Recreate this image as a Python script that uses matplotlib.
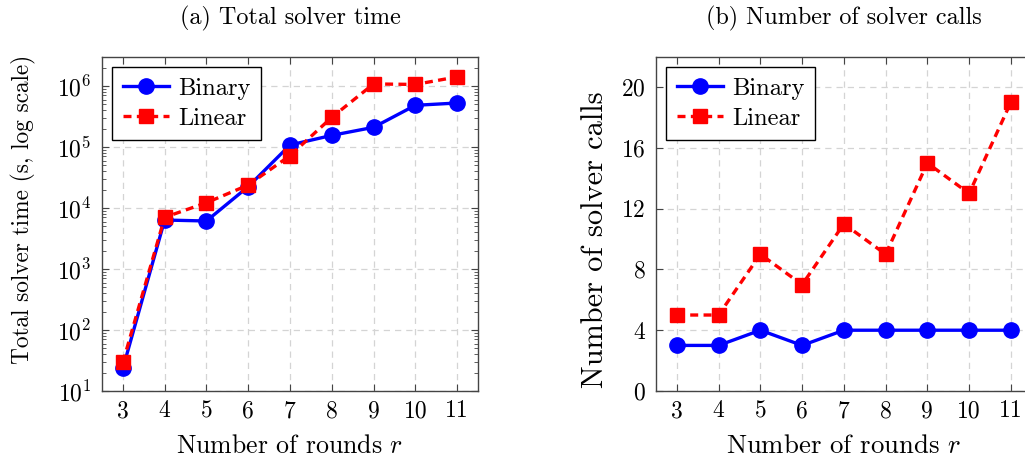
import matplotlib
matplotlib.use("Agg")
import matplotlib.pyplot as plt
from matplotlib.ticker import LogLocator, FixedLocator, NullFormatter

plt.rcParams['font.family'] = ['cmr10', 'DejaVu Serif']
plt.rcParams['mathtext.fontset'] = 'cm'
plt.rcParams['axes.formatter.use_mathtext'] = True
plt.rcParams['axes.unicode_minus'] = False

rounds = [3, 4, 5, 6, 7, 8, 9, 10, 11]
time_binary = [23.5, 6350, 6120, 22400, 107800, 155000, 210000, 482000, 526000]
time_linear = [29.5, 7030, 12200, 23800, 72100, 306000, 1080000, 1060000, 1410000]
calls_binary = [3, 3, 4, 3, 4, 4, 4, 4, 4]
calls_linear = [5, 5, 9, 7, 11, 9, 15, 13, 19]
calls_ticks = [0, 4, 8, 12, 16, 20]

W, H = 1025, 459
fig = plt.figure(figsize=(W / 100, H / 100), dpi=100)

ax1 = fig.add_axes([102 / W, (H - 391) / H, 376 / W, 334.3 / H])
ax2 = fig.add_axes([656 / W, (H - 391) / H, 375.75 / W, 334.3 / H])

TICK_FS = 17.0
LEG_FS = 17.7
TITLE_FS = 17.4
blue = '#0000ff'
red = '#ff0000'

def style(ax, xlabel_fs):
    ax.set_xlim(2.5, 11.5)
    ax.set_xticks(rounds)
    ax.set_xticklabels([str(r) for r in rounds])
    ax.grid(True, which='major', color='#d4d4d4', linestyle=(0, (5, 4)), linewidth=0.9)
    ax.set_axisbelow(True)
    ax.tick_params(which='both', direction='in', top=True, right=True, labelsize=TICK_FS,
                   color='#444444')
    ax.tick_params(axis='x', which='both', pad=6.5)
    ax.tick_params(axis='y', which='both', pad=7.5)
    ax.tick_params(which='major', length=5, width=0.8)
    ax.tick_params(which='minor', length=3, width=0.6)
    for s in ax.spines.values():
        s.set_color('#444444')
        s.set_linewidth(1.0)
    ax.set_xlabel('Number of rounds $r$', fontsize=xlabel_fs, va='top')
    ax.xaxis.set_label_coords(0.5, -0.128)

def plot_series(ax, yb, yl):
    ax.plot(rounds, yb, color=blue, lw=2.4, marker='o', markersize=11, label='Binary',
            zorder=3)
    ax.plot(rounds, yl, color=red, lw=2.4, marker='s', markersize=10.5, label='Linear',
            dashes=[2.4, 1.6], zorder=4)
    leg = ax.legend(loc='upper left', fontsize=LEG_FS, fancybox=False, framealpha=1,
                    edgecolor='black', borderaxespad=0.42, handlelength=1.9,
                    borderpad=0.42, labelspacing=0.32, handletextpad=0.35)
    leg.get_frame().set_linewidth(1.0)

plot_series(ax1, time_binary, time_linear)
ax1.set_yscale('log')
ax1.set_ylim(10, 10 ** 6.48)
ax1.yaxis.set_major_locator(LogLocator(base=10, numticks=10))
ax1.yaxis.set_minor_locator(LogLocator(base=10, subs=range(2, 10), numticks=20))
ax1.yaxis.set_minor_formatter(NullFormatter())
style(ax1, 18.6)
ax1.set_ylabel('Total solver time (s, log scale)', fontsize=16.8)
ax1.yaxis.set_label_coords(-0.176, 0.544)
ax1.set_title('(a) Total solver time', fontsize=TITLE_FS, pad=23.5)

plot_series(ax2, calls_binary, calls_linear)
ax2.set_ylim(0, 22)
ax2.yaxis.set_major_locator(FixedLocator(calls_ticks))
style(ax2, 19.3)
ax2.set_ylabel('Number of solver calls', fontsize=21.9)
ax2.yaxis.set_label_coords(-0.125, 0.452)
ax2.set_title('(b) Number of solver calls', fontsize=TITLE_FS, pad=23.5)

fig.savefig('out.png', dpi=100)
